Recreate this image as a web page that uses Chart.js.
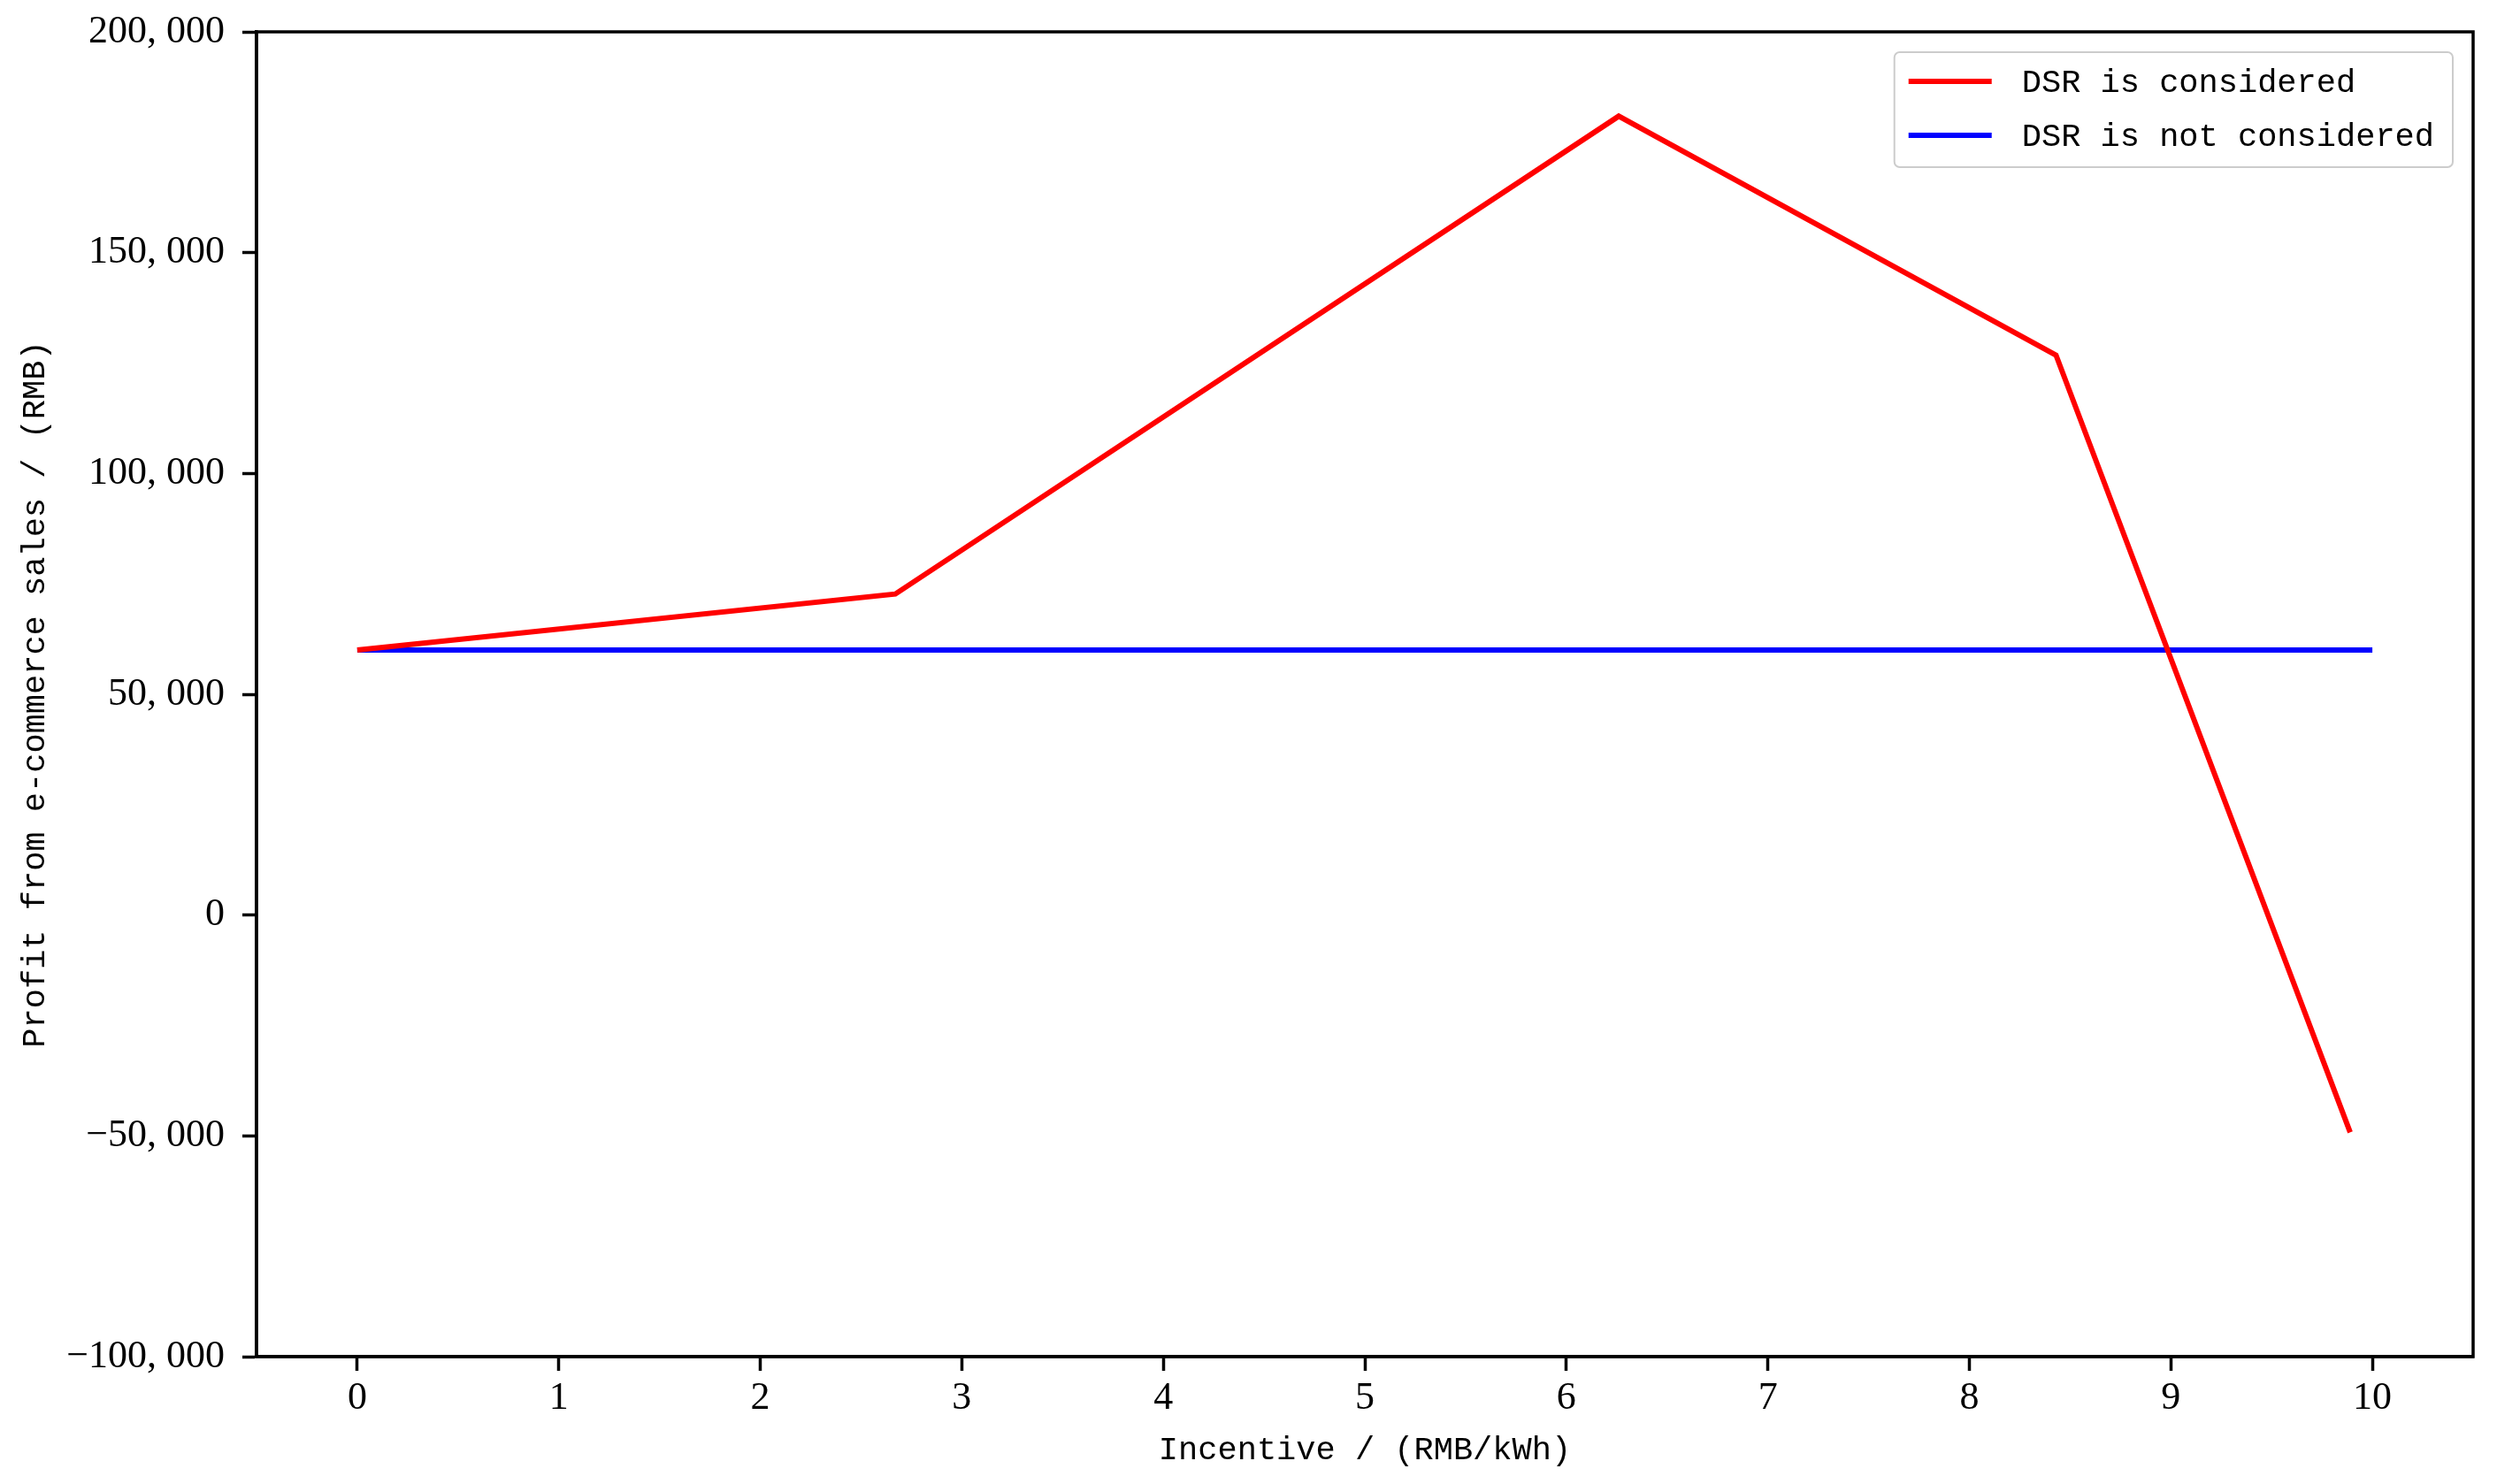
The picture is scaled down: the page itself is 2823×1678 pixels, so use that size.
<!DOCTYPE html>
<html>
<head>
<meta charset="utf-8">
<script src="https://cdn.jsdelivr.net/npm/chart.js@4"></script>
<style>
  body { margin: 0; background: #fff; }
  canvas { display: block; }
</style>
</head>
<body>
<canvas id="grafico" width="2823" height="1678"></canvas>
<script>
// Datos
const incentivoDSR = [0, 2.67, 6.26, 8.43, 9.89];
const beneficioDSR = [60000, 72700, 180900, 126800, -49200];
const incentivoBase = [0, 10];
const beneficioBase = [60000, 60000];
const etiquetasSeries = ["DSR is considered", "DSR is not considered"];
const xTicks = [0, 1, 2, 3, 4, 5, 6, 7, 8, 9, 10];
const yTicks = [-100000, -50000, 0, 50000, 100000, 150000, 200000];

const fuenteTexto = "Liberation Mono";
const fuenteTicks = "Liberation Serif";

// Formato "200, 000" con signo menos tipográfico
function formatoMiles(v) {
    const s = Math.abs(v).toLocaleString("en-US").replace(/,/g, ", ");
    return (v < 0 ? "\u2212" : "") + s;
}

// Marco completo alrededor del área del gráfico
const marco = {
    id: "marco",
    afterDatasetsDraw(chart) {
        const a = chart.chartArea;
        const ctx = chart.ctx;
        ctx.save();
        ctx.strokeStyle = "#000";
        ctx.lineWidth = 3.5;
        ctx.strokeRect(a.left, a.top, a.right - a.left, a.bottom - a.top);
        ctx.restore();
    }
};

// Leyenda dibujada dentro del área, arriba a la derecha
const leyenda = {
    id: "leyenda",
    afterDraw(chart) {
        const a = chart.chartArea;
        const ctx = chart.ctx;
        ctx.save();
        ctx.font = "37px '" + fuenteTexto + "'";
        const sets = chart.data.datasets;
        let maxW = 0;
        sets.forEach(d => { maxW = Math.max(maxW, ctx.measureText(d.label).width); });
        const w = 16 + 94 + 34 + maxW + 21;
        const h = 130;
        const x = a.right - 23 - w;
        const y = a.top + 23;
        ctx.fillStyle = "rgba(255,255,255,0.85)";
        ctx.strokeStyle = "#cccccc";
        ctx.lineWidth = 2;
        ctx.beginPath();
        ctx.roundRect(x, y, w, h, 6);
        ctx.fill();
        ctx.stroke();
        sets.forEach((d, i) => {
            const cy = y + 33 + i * 61;
            ctx.strokeStyle = d.borderColor;
            ctx.lineWidth = 6;
            ctx.beginPath();
            ctx.moveTo(x + 16, cy);
            ctx.lineTo(x + 110, cy);
            ctx.stroke();
            ctx.fillStyle = "#000";
            ctx.textBaseline = "middle";
            ctx.fillText(d.label, x + 144, cy + 2);
        });
        ctx.restore();
    }
};

const ctx = document.getElementById("grafico").getContext("2d");
new Chart(ctx, {
    type: "line",
    data: {
        datasets: [{
            label: etiquetasSeries[0],
            data: incentivoDSR.map((x, i) => ({ x: x, y: beneficioDSR[i] })),
            borderColor: "#ff0000",
            borderWidth: 6,
            pointRadius: 0,
            tension: 0
        }, {
            label: etiquetasSeries[1],
            data: incentivoBase.map((x, i) => ({ x: x, y: beneficioBase[i] })),
            borderColor: "#0000ff",
            borderWidth: 6,
            pointRadius: 0,
            tension: 0
        }]
    },
    options: {
        responsive: false,
        devicePixelRatio: 1,
        animation: false,
        layout: { padding: { left: 0, top: 36, right: 27, bottom: 0 } },
        plugins: {
            legend: { display: false },
            tooltip: { enabled: false }
        },
        scales: {
            x: {
                type: "linear",
                min: -0.5,
                max: 10.5,
                afterBuildTicks: s => { s.ticks = xTicks.map(v => ({ value: v })); },
                afterFit: s => { s.height = 144; s.paddingLeft = 0; s.paddingRight = 0; },
                border: { color: "#000", width: 3.5 },
                grid: { drawOnChartArea: false, drawTicks: true, tickLength: 16, tickColor: "#000", tickWidth: 3.5 },
                ticks: {
                    color: "#000",
                    padding: 5,
                    maxRotation: 0,
                    font: { family: fuenteTicks, size: 44 }
                },
                title: {
                    display: true,
                    text: "Incentive / (RMB/kWh)",
                    color: "#000",
                    padding: { top: 16, bottom: 16 },
                    font: { family: fuenteTexto, size: 37 }
                }
            },
            y: {
                min: -100000,
                max: 200000,
                afterBuildTicks: s => { s.ticks = yTicks.map(v => ({ value: v })); },
                afterFit: s => { s.width = 290; s.paddingTop = 0; s.paddingBottom = 0; },
                border: { color: "#000", width: 3.5 },
                grid: { drawOnChartArea: false, drawTicks: true, tickLength: 16, tickColor: "#000", tickWidth: 3.5 },
                ticks: {
                    color: "#000",
                    padding: 20,
                    font: { family: fuenteTicks, size: 44 },
                    callback: v => formatoMiles(v)
                },
                title: {
                    display: true,
                    text: "Profit from e-commerce sales / (RMB)",
                    color: "#000",
                    padding: { top: 18, bottom: 18 },
                    font: { family: fuenteTexto, size: 37 }
                }
            }
        }
    },
    plugins: [marco, leyenda]
});
</script>
</body>
</html>
